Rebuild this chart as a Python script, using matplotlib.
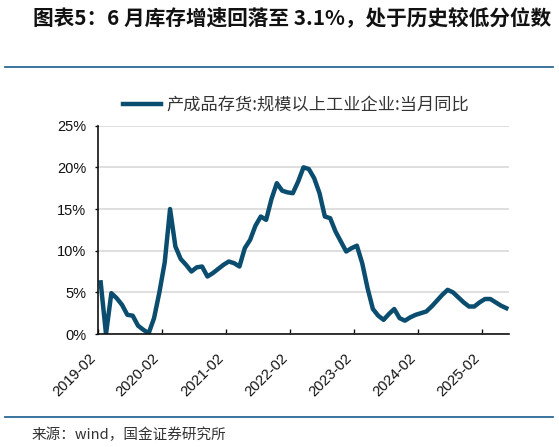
import matplotlib
matplotlib.use("Agg")
import matplotlib.pyplot as plt
from matplotlib.transforms import ScaledTranslation
import numpy as np
import pandas as pd

plt.rcParams['font.family'] = ['Noto Sans CJK SC', 'DejaVu Sans']

# monthly data, 2019-02 .. 2025-06
months = pd.date_range('2019-02', '2025-06', freq='MS').strftime('%Y-%m').tolist()
inventory_yoy = [
    6.2, 0.0, 4.9, 4.3, 3.5, 2.3, 2.2, 1.0, 0.5, 0.1, 1.9,
    5.0, 8.6, 15.0, 10.5, 9.0, 8.3, 7.5, 8.0, 8.1, 6.9, 7.3,
    7.8, 8.3, 8.7, 8.5, 8.1, 10.3, 11.3, 13.0, 14.1, 13.7, 16.2,
    18.1, 17.2, 17.0, 16.9, 18.3, 20.0, 19.8, 18.7, 16.9, 14.1, 13.9,
    12.3, 11.1, 9.9, 10.3, 10.6, 8.5, 5.5, 3.0, 2.2, 1.7, 2.4,
    3.0, 1.9, 1.6, 2.0, 2.3, 2.5, 2.7, 3.3, 4.0, 4.7, 5.3,
    5.0, 4.4, 3.8, 3.3, 3.3, 3.8, 4.2, 4.2, 3.8, 3.4, 3.1,
]
series_name = '产成品存货:规模以上工业企业:当月同比'
title = '图表5：6 月库存增速回落至 3.1%，处于历史较低分位数'
source = '来源：wind，国金证券研究所'
yticks = [0, 5, 10, 15, 20, 25]

W, H = 559, 447
fig = plt.figure(figsize=(W / 100, H / 100), dpi=100)

def fx(x):
    return x / W

def fy(y):
    return 1 - y / H

line_col = '#0b4d6e'
rule_col = '#2a6a96'

# header / footer
fig.text(fx(33), fy(18), title, fontsize=14.9, fontweight='bold', color='#111111',
         ha='left', va='center')
fig.add_artist(plt.Line2D([fx(5), fx(553)], [fy(67), fy(67)], color=rule_col, lw=1.3))
fig.add_artist(plt.Line2D([fx(5), fx(553)], [fy(417), fy(417)], color=rule_col, lw=1.3))
fig.text(fx(32), fy(435), source, fontsize=10.5, color='#333333', ha='left', va='center')

# chart
ax = fig.add_axes([fx(98), fy(334), fx(509) - fx(98), (334 - 125.7) / H])
x = np.arange(len(months))
ax.plot(x, inventory_yoy, color=line_col, lw=3.2, solid_joinstyle='round',
        label=series_name)

ax.set_xlim(-0.5, len(months) - 0.5)
ax.set_ylim(0, 25)
ax.set_yticks(yticks)
ax.set_yticklabels([f'{v}%' for v in yticks], fontfamily='Liberation Sans', fontsize=10.5)
ax.yaxis.grid(True, color='#d9d9d9', lw=1.2)
ax.set_axisbelow(True)

tick_pos = np.arange(-0.5, len(months), 12)
ax.set_xticks(tick_pos)
ax.set_xticklabels([months[int(p + 0.5)] for p in tick_pos], rotation=45, ha='right',
                   fontfamily='Liberation Sans', fontsize=10.5)
for lbl in ax.get_xticklabels():
    lbl.set_transform(lbl.get_transform() + ScaledTranslation(4 / 100, 0, fig.dpi_scale_trans))

ax.tick_params(axis='x', direction='in', length=3.5, width=1, pad=12, colors='#111111')
ax.tick_params(axis='y', direction='out', length=2.5, width=1, pad=6, colors='#111111')
for s in ['top', 'right']:
    ax.spines[s].set_visible(False)
for s in ['left', 'bottom']:
    ax.spines[s].set_color('#111111')
    ax.spines[s].set_linewidth(1.2)

fig.legend(loc='center', bbox_to_anchor=(fx(296), fy(105)), frameon=False,
           fontsize=12.4, handlelength=2.2, handletextpad=0.3, labelcolor='#333333')

fig.savefig('out.png', dpi=100)
